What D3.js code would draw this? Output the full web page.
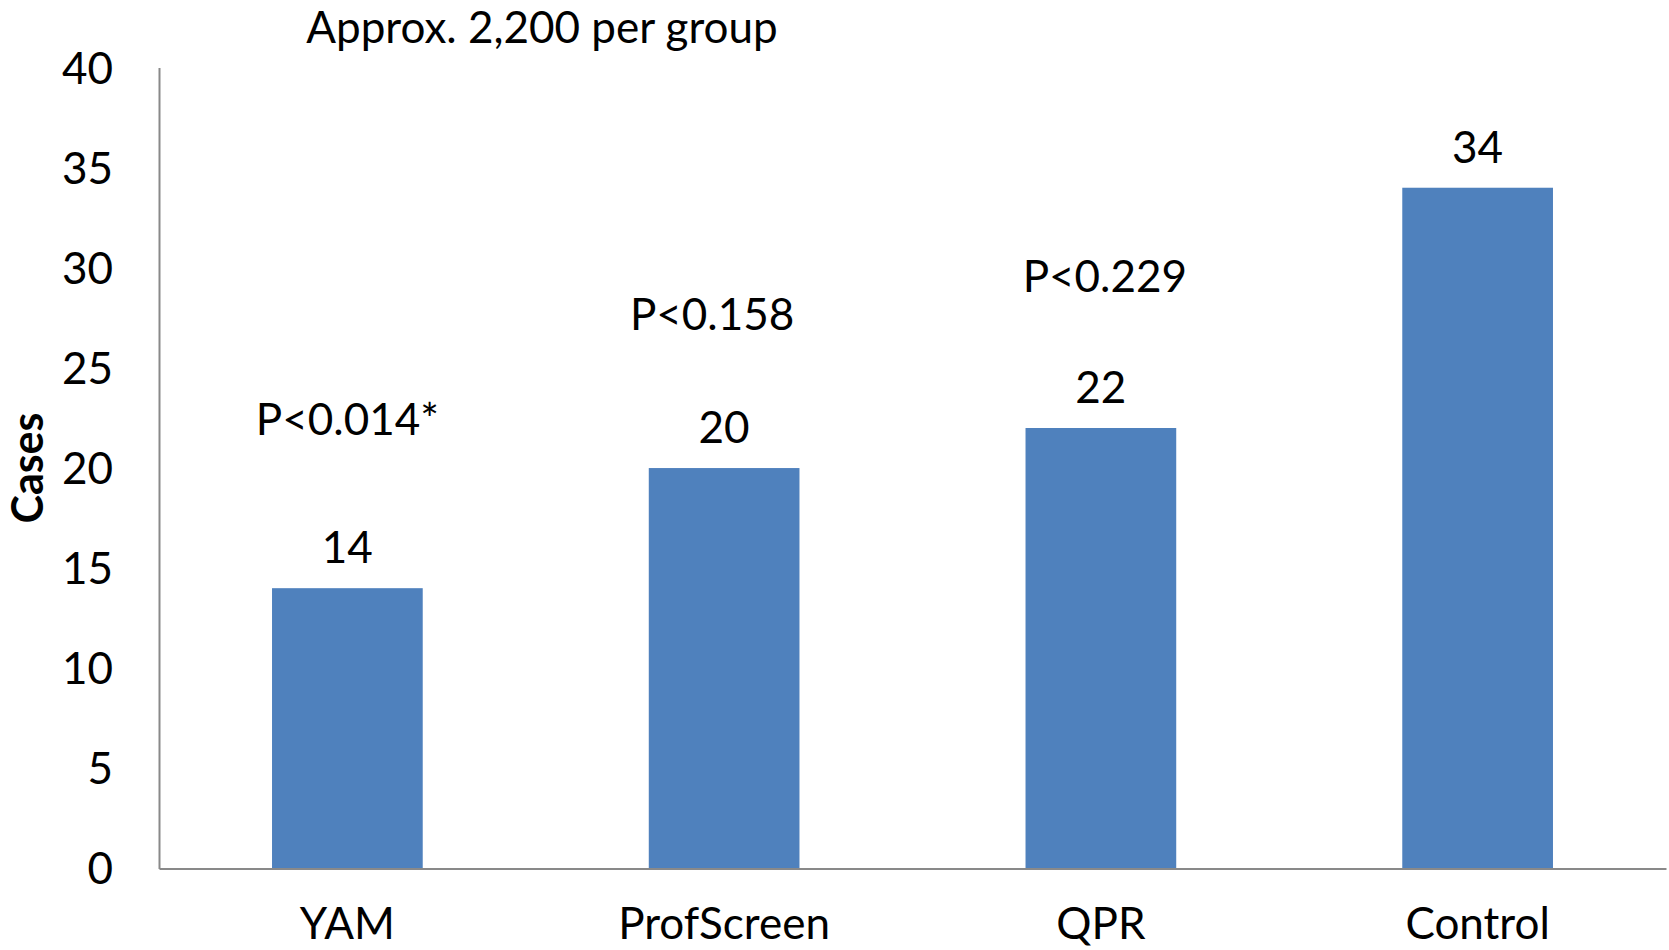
<!DOCTYPE html>
<html>
<head>
<meta charset="utf-8">
<script src="https://cdn.jsdelivr.net/npm/d3@7"></script>
<style>
  html, body { margin: 0; padding: 0; background: #fff; }
  svg { display: block; }
  text { font-family: Lato, "Open Sans", sans-serif; fill: #000; }
</style>
</head>
<body>
<svg id="chart" width="1669" height="950"></svg>
<script>
// ---- data ----
const categories = ["YAM", "ProfScreen", "QPR", "Control"];
const cases = [14, 20, 22, 34];
const pLabels = ["P<0.014*", "P<0.158", "P<0.229", ""];
const pLabelLevels = [21.65, 26.9, 28.8, null];   // annotation baseline, in "Cases" units
const yTicks = [0, 5, 10, 15, 20, 25, 30, 35, 40];
const yTitle = "Cases";
const chartNote = "Approx. 2,200 per group";

// ---- layout ----
const W = 1669, H = 950;
const plot = { left: 159, right: 1666, top: 67.6, bottom: 868.5 };
const FS = 44;
const barColor = "#4F81BD";
const axisColor = "#898989";
const pLabelDx = [0, -12, 4, 0];

const svg = d3.select("#chart");

const x = d3.scaleBand()
  .domain(categories)
  .range([plot.left, plot.right])
  .paddingInner(0.6)
  .paddingOuter(0.3);

const y = d3.scaleLinear()
  .domain([0, 40])
  .range([plot.bottom, plot.top]);

// bars
svg.append("g")
  .selectAll("rect")
  .data(categories)
  .join("rect")
  .attr("x", d => x(d))
  .attr("width", x.bandwidth())
  .attr("y", (d, i) => y(cases[i]))
  .attr("height", (d, i) => y(0) - y(cases[i]))
  .attr("fill", barColor);

// y axis
const yAxis = svg.append("g")
  .attr("transform", `translate(${plot.left},0)`)
  .call(d3.axisLeft(y).tickValues(yTicks).tickSize(0).tickSizeOuter(0).tickPadding(46));
yAxis.select(".domain").attr("stroke", axisColor).attr("stroke-width", 2);
yAxis.selectAll("text")
  .style("font-family", "Lato, sans-serif")
  .attr("font-size", FS)
  .attr("fill", "#000")
  .attr("dy", "0.35em");

// x axis
const xAxis = svg.append("g")
  .attr("transform", `translate(0,${plot.bottom})`)
  .call(d3.axisBottom(x).tickSize(0).tickSizeOuter(0));
xAxis.select(".domain").attr("stroke", axisColor).attr("stroke-width", 2);
xAxis.selectAll("text")
  .style("font-family", "Lato, sans-serif")
  .attr("font-size", FS)
  .attr("fill", "#000")
  .attr("dy", null)
  .attr("y", 939 - plot.bottom);

// value labels
svg.append("g")
  .selectAll("text")
  .data(categories)
  .join("text")
  .attr("x", d => x(d) + x.bandwidth() / 2)
  .attr("y", (d, i) => y(cases[i]) - 25)
  .attr("text-anchor", "middle")
  .attr("font-size", FS)
  .text((d, i) => cases[i]);

// p-value annotations
svg.append("g")
  .selectAll("text")
  .data(categories.filter((d, i) => pLabels[i]))
  .join("text")
  .attr("x", d => x(d) + x.bandwidth() / 2 + pLabelDx[categories.indexOf(d)])
  .attr("y", d => y(pLabelLevels[categories.indexOf(d)]))
  .attr("text-anchor", "middle")
  .attr("font-size", FS)
  .text(d => pLabels[categories.indexOf(d)]);

// y title
svg.append("text")
  .attr("transform", `translate(43,${(plot.top + plot.bottom) / 2}) rotate(-90)`)
  .attr("text-anchor", "middle")
  .attr("font-size", 43)
  .attr("font-weight", "bold")
  .text(yTitle);

// note at top
svg.append("text")
  .attr("x", 542)
  .attr("y", 43)
  .attr("text-anchor", "middle")
  .attr("font-size", FS)
  .text(chartNote);
</script>
</body>
</html>
